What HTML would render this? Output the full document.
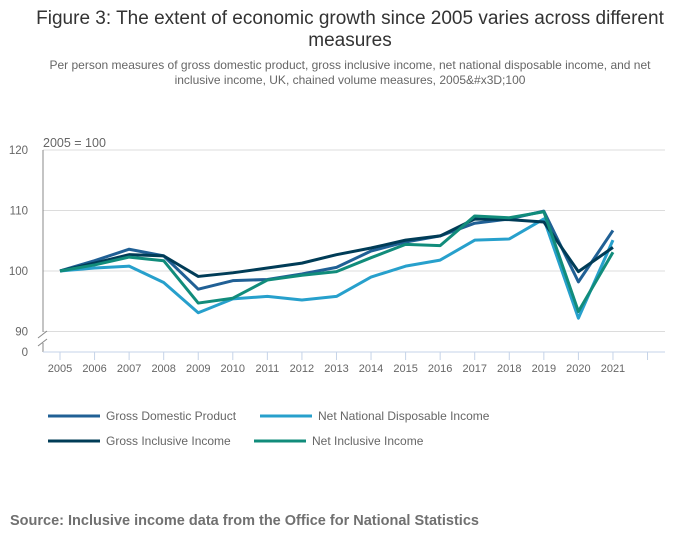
<!DOCTYPE html>
<html><head><meta charset="utf-8"><style>
body{margin:0;background:#fff;font-family:"Liberation Sans",sans-serif;}
#wrap{position:relative;width:700px;height:549px;overflow:hidden}
.t{position:absolute;left:0;width:700px;text-align:center;color:#222}
</style></head><body>
<div id="wrap">
<div class="t" style="top:8px;font-size:19px;line-height:22px;color:#333">Figure 3: The extent of economic growth since 2005 varies across different<br>measures</div>
<div class="t" style="top:58px;font-size:12px;line-height:15px;color:#666">Per person measures of gross domestic product, gross inclusive income, net national disposable income, and net<br>inclusive income, UK, chained volume measures, 2005&amp;#x3D;100</div>
<svg id="chart" width="700" height="549" style="position:absolute;left:0;top:0"></svg>
<div style="position:absolute;left:10px;top:513px;font-size:14.5px;font-weight:bold;color:#707070">Source: Inclusive income data from the Office for National Statistics</div>
</div>
<script>
const years=[2005,2006,2007,2008,2009,2010,2011,2012,2013,2014,2015,2016,2017,2018,2019,2020,2021];
const gdp=[100,101.7,103.6,102.5,97.0,98.4,98.6,99.5,100.6,103.3,104.8,105.8,107.9,108.6,109.9,98.2,106.7];
const nndi=[100,100.5,100.8,98.1,93.1,95.4,95.8,95.2,95.8,99.0,100.8,101.8,105.1,105.3,108.6,92.2,105.1];
const gii=[100,101.3,102.7,102.5,99.1,99.7,100.5,101.3,102.7,103.8,105.1,105.8,108.6,108.5,108.1,99.9,103.9];
const nii=[100,101.0,102.3,101.7,94.7,95.5,98.5,99.3,99.9,102.2,104.4,104.2,109.1,108.8,109.8,93.3,103.1];
const yTicks=[90,100,110,120];
const NS="http://www.w3.org/2000/svg",svg=document.getElementById('chart');
const X=i=>60+i*34.56, Y=v=>271-(v-100)*6.05;
function mk(t,a,p){const e=document.createElementNS(NS,t);for(const k in a)e.setAttribute(k,a[k]);(p||svg).appendChild(e);return e;}
yTicks.forEach(v=>{const g=mk('line',{x1:43,x2:665,y1:Y(v),y2:Y(v),stroke:'#dcdcdc'});

const t=mk('text',{x:28,y:Y(v)+4,'text-anchor':'end','font-size':11.5,fill:'#666'});t.textContent=v;
});
const z=mk('text',{x:28,y:356,'text-anchor':'end','font-size':11.5,fill:'#666'});z.textContent='0';

const u=mk('text',{x:43,y:147,'font-size':12.5,fill:'#666'});u.textContent='2005 = 100';

const ya=mk('path',{d:'M43,150V332M43,343V352',stroke:'#888',fill:'none'});

const br=mk('path',{d:'M38,338L47,331M38,346L47,339',stroke:'#888',fill:'none'});

const xa=mk('line',{x1:43,x2:665,y1:352,y2:352,stroke:'#c5d3e8'});

years.concat([2022]).forEach((yr,i)=>{const tk=mk('line',{x1:X(i),x2:X(i),y1:352,y2:360,stroke:'#c5d3e8'});

if(i<years.length){const t=mk('text',{x:X(i),y:372,'text-anchor':'middle','font-size':11,fill:'#666'});t.textContent=yr;
}});
const series=[['gdp',gdp,'#206095'],['nndi',nndi,'#27a0cc'],['gii',gii,'#003c57'],['nii',nii,'#118c7b']];
series.forEach(([n,d,c])=>{const p=mk('polyline',{points:d.map((v,i)=>X(i)+','+Y(v)).join(' '),fill:'none',stroke:c,'stroke-width':3,'stroke-linejoin':'round'});
});
const leg=[['Gross Domestic Product','#206095',48,416],['Net National Disposable Income','#27a0cc',260,416],['Gross Inclusive Income','#003c57',48,441],['Net Inclusive Income','#118c7b',254,441]];
leg.forEach(([l,c,x,y])=>{const g=mk('g',{});
mk('line',{x1:x,x2:x+52,y1:y,y2:y,stroke:c,'stroke-width':3},g);
const t=mk('text',{x:x+58,y:y+4,'font-size':12,fill:'#666'},g);t.textContent=l;});
</script>
</body></html>
